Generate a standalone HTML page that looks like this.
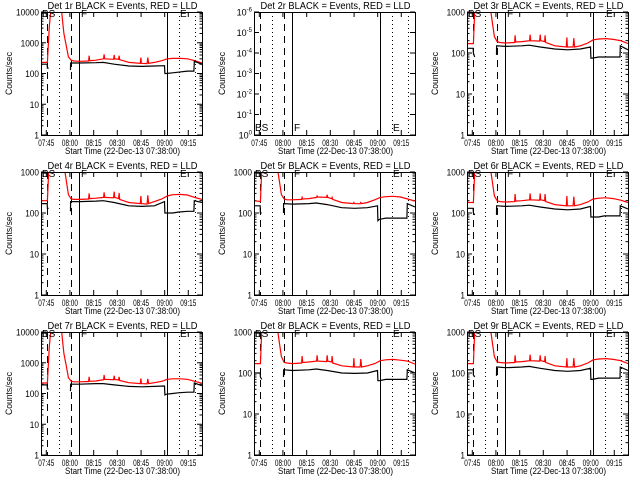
<!DOCTYPE html>
<html><head><meta charset="utf-8"><style>
html,body{margin:0;padding:0;background:#fff;}
svg{display:block;font-family:"Liberation Sans",sans-serif;}
</style></head><body>
<svg id="chart" width="640" height="480" viewBox="0 0 640 480" xmlns="http://www.w3.org/2000/svg"></svg>
<script>
// ---- data ----
const panelNames = ["Det 1r","Det 2r","Det 3r","Det 4r","Det 5r","Det 6r","Det 7r","Det 8r","Det 9r"];
const xTickMinutes = [2.9,15.8,28.8,41.7,54.7,67.6,80.5];
const xTickLabels = ["07:45","08:00","08:15","08:30","08:45","09:00","09:15"];
const markerMinutes = [3.3,9.8,16.4,20.8,68.9,75.4,84.2];
const markerStyles = ["dash","dot","dash","solid","solid","dot","dot"];
const redTimes = [0,3.5,4.5,5.5,11,12.5,14,15,16.5,18,21,26,26.3,26.6,30,34.2,34.5,34.8,39.7,40,40.3,42.4,42.7,43,48,54.3,54.6,54.9,58,58.4,58.8,62,66,69,72,76,80,84,88];
const blackTimes = [0,3.4,3.5,4.2,4.3,16.1,16.2,16.5,21,30,34,40,48,55,62,67.5,67.7,68.5,72,75,80,83.6,83.8,88];
const red1 = [230,230,3000,15000,15000,2000,700,350,270,255,250,255,380,260,270,300,420,300,290,400,300,290,380,280,230,215,330,215,210,330,215,230,260,300,310,310,300,260,220];
const red3 = [170,170,2000,3000,3000,1500,500,250,190,180,175,180,270,185,190,200,280,200,195,280,200,190,270,180,150,140,240,140,140,230,140,150,175,210,220,225,215,200,170];
const red4 = [200,200,2000,3000,3000,1500,550,280,220,215,215,220,300,225,230,240,320,240,235,330,240,225,310,215,180,170,260,170,165,270,170,190,220,260,280,285,275,240,215];
const red5 = [200,190,2000,3000,3000,1500,550,280,220,210,210,215,240,220,225,240,260,245,240,280,240,225,240,215,180,170,180,170,168,180,170,180,210,240,250,255,245,220,195];
const red6 = [180,180,2000,3000,3000,1500,520,260,200,190,185,190,290,195,200,210,300,210,205,300,210,200,290,190,160,150,260,150,150,250,150,160,185,220,230,235,225,205,180];
const red7 = [220,220,3000,15000,15000,2000,700,330,250,240,240,245,350,250,255,280,400,290,280,380,285,275,350,265,225,210,310,210,205,300,210,225,250,290,300,300,290,250,215];
const red8 = [170,170,2000,3000,3000,1500,500,250,180,175,170,175,260,180,185,195,270,195,190,270,195,185,260,175,150,140,230,140,140,220,140,150,170,200,210,215,205,195,165];
const red9 = [170,170,2000,3000,3000,1500,500,250,185,180,175,180,270,185,190,200,280,200,195,270,200,190,260,180,150,140,230,140,140,230,140,150,175,210,220,225,215,200,170];
const black1 = [200,200,150,150,null,130,220,220,220,225,230,200,175,170,175,180,100,100,105,110,120,120,250,200];
const black3 = [130,130,100,80,null,90,150,150,145,150,155,140,125,120,125,140,75,75,80,80,80,80,150,120];
const black4 = [170,170,130,130,null,110,190,190,190,195,200,180,150,145,150,190,100,100,100,105,110,110,200,180];
const black5 = [150,150,100,100,null,100,170,170,165,170,175,160,135,130,135,150,65,70,75,75,75,75,170,140];
const black6 = [130,130,100,90,null,90,150,150,145,150,155,140,125,120,125,145,80,80,80,85,85,85,150,125];
const black7 = [190,190,140,140,null,120,200,200,200,210,210,190,170,165,170,175,90,95,100,105,110,110,220,180];
const black8 = [100,100,80,70,null,80,120,120,115,120,125,115,100,98,100,115,65,65,70,70,70,70,120,100];
const black9 = [120,120,90,80,null,85,140,140,135,140,145,130,115,110,115,130,70,70,75,75,75,75,140,115];
const redSeries = [red1,null,red3,red4,red5,red6,red7,red8,red9];
const blackSeries = [black1,null,black3,black4,black5,black6,black7,black8,black9];
const yMaxExp = [4,0,3,3,3,3,4,3,3];

// ---- drawing ----
const NS = "http://www.w3.org/2000/svg";
const svg = document.getElementById("chart");
function mk(tag, attrs, parent){
  const e = document.createElementNS(NS, tag);
  for (const k in attrs) e.setAttribute(k, attrs[k]);
  (parent||svg).appendChild(e);
  return e;
}
const colX = [41, 254, 467];
const rowY = [0, 160, 320];
const FW = 161, FT = 12, FB = 135;
const T_MAX = 88;

for (let p = 0; p < 9; p++) {
  const r = Math.floor(p/3), c = p%3;
  const L = colX[c], top = rowY[r] + FT, bot = rowY[r] + FB, R = L + FW;
  const g = mk("g", {});
  
  
  const xs = t => L + t / T_MAX * FW;
  let yMin, yMax;
  if (p === 1) { yMin = -6; yMax = 0; } else { yMin = 0; yMax = yMaxExp[p]; }
  const ys = v => bot - (Math.log10(v) - yMin) / (yMax - yMin) * (bot - top);

  const cp = mk("clipPath", {id: "clip" + p}, g);
  mk("rect", {x: L, y: top, width: FW, height: bot - top}, cp);

  const title = mk("text", {x: L + FW/2 + 1, y: rowY[r] + 9, "font-size": 10, "text-anchor": "middle", fill: "#000", textLength: 150, lengthAdjust: "spacingAndGlyphs"}, g);
  title.textContent = panelNames[p] + " BLACK = Events, RED = LLD";
  
  

  const yl = mk("text", {x: 0, y: 0, "font-size": 9, "text-anchor": "middle", fill: "#000", textLength: 43, lengthAdjust: "spacingAndGlyphs",
    transform: "translate(" + (L - 29) + "," + ((top+bot)/2) + ") rotate(-90)"}, g);
  yl.textContent = "Counts/sec";
  
  

  const xt = mk("text", {x: L + FW/2 + 1, y: rowY[r] + 154, "font-size": 9.5, "text-anchor": "middle", fill: "#000", textLength: 115, lengthAdjust: "spacingAndGlyphs"}, g);
  xt.textContent = "Start Time (22-Dec-13 07:38:00)";
  
  

  for (let e = yMin; e <= yMax; e++) {
    const y = bot - (e - yMin) / (yMax - yMin) * (bot - top);
    mk("line", {x1: L, x2: L + 5, y1: y, y2: y, stroke: "#000"}, g);
    mk("line", {x1: R - 5, x2: R, y1: y, y2: y, stroke: "#000"}, g);
    const t = mk("text", {x: L - 2, y: y + 3.5, "font-size": 9, "text-anchor": "end", fill: "#000"}, g);
    if (p === 1) {
      t.textContent = "10";
      const sp = mk("tspan", {dy: -4, "font-size": 6}, t);
      const ex = -(e - yMin);
      sp.textContent = String(ex === 0 ? 0 : ex);
    } else {
      const s = String(Math.pow(10, e));
      t.textContent = s;
      t.setAttribute("textLength", 4.6 * s.length);
      t.setAttribute("lengthAdjust", "spacingAndGlyphs");
    }
    
    
    if (e < yMax && p !== 1) {
      for (let m = 2; m <= 9; m++) {
        const ym = ys(m * Math.pow(10, e));
        mk("line", {x1: L, x2: L + 2.5, y1: ym, y2: ym, stroke: "#000"}, g);
        mk("line", {x1: R - 2.5, x2: R, y1: ym, y2: ym, stroke: "#000"}, g);
      }
    }
  }
  xTickMinutes.forEach((tm, i) => {
    const x = xs(tm);
    mk("line", {x1: x, x2: x, y1: bot, y2: bot - 5, stroke: "#000"}, g);
    mk("line", {x1: x, x2: x, y1: top, y2: top + 5, stroke: "#000"}, g);
    const t = mk("text", {x: x, y: rowY[r] + 146, "font-size": 9, "text-anchor": "middle", fill: "#000", textLength: 16, lengthAdjust: "spacingAndGlyphs"}, g);
    t.textContent = xTickLabels[i];
    
    
  });

  markerMinutes.forEach((tm, i) => {
    const x = Math.round(xs(tm)) + 0.5;
    const a = {x1: x, x2: x, y1: top, y2: bot, stroke: "#000", "stroke-width": 1};
    if (markerStyles[i] === "dash") a["stroke-dasharray"] = "7,5";
    if (markerStyles[i] === "dot") a["stroke-dasharray"] = "1,3";
    const ln = mk("line", a, g);
    
    
  });

  const drawSeries = (times, vals, color, name) => {
    if (!vals) return;
    let d = "", pen = false;
    times.forEach((tm, i) => {
      const v = vals[i];
      if (v === null) { pen = false; return; }
      const x = xs(tm), y = ys(v);
      d += (pen ? "L" : "M") + x.toFixed(1) + " " + y.toFixed(1);
      pen = true;
    });
    const path = mk("path", {d: d, fill: "none", stroke: color, "stroke-width": 1.2, "clip-path": "url(#clip" + p + ")"}, g);
    
    
  };
  drawSeries(redTimes, redSeries[p], "#f00", "lld-rate-line");
  drawSeries(blackTimes, blackSeries[p], "#000", "event-rate-line");

  const ly = (p === 1) ? bot - 4 : top + 5;
  [["BS", L + 1], ["F", xs(20.8) + 2], ["E", L + 139]].forEach(([s, x]) => {
    const t = mk("text", {x: x, y: ly, "font-size": 10, fill: "#000"}, g);
    t.textContent = s;
    
    
  });

  const fr = mk("rect", {x: L + 0.5, y: top + 0.5, width: FW, height: bot - top, fill: "none", stroke: "#000"}, g);
  
  
}
</script>
</body></html>
